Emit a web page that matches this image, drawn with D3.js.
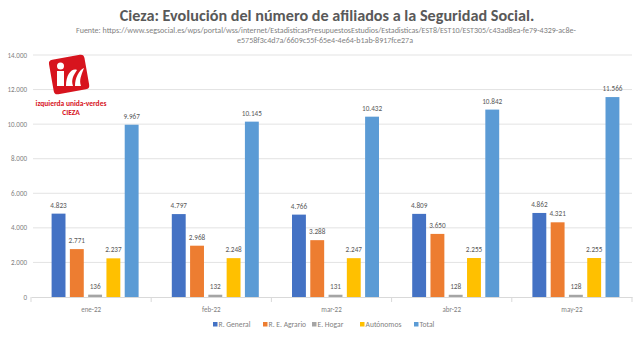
<!DOCTYPE html>
<html>
<head>
<meta charset="utf-8">
<script src="https://cdn.jsdelivr.net/npm/d3@7"></script>
<style>
  body { margin: 0; background: #fff; }
  text { font-family: Calibri, Carlito, "Liberation Sans", "DejaVu Sans", sans-serif; }
</style>
</head>
<body>
<div id="container"></div>
<script>
let w = 640;
let h = 337;

const months = ["ene-22", "feb-22", "mar-22", "abr-22", "may-22"];
const seriesNames = ["R. General", "R. E. Agrario", "E. Hogar", "Autónomos", "Total"];
const rGeneral = [4823, 4797, 4766, 4809, 4862];
const rAgrario = [2771, 2968, 3288, 3650, 4321];
const eHogar = [136, 132, 131, 128, 128];
const autonomos = [2237, 2248, 2247, 2255, 2255];
const total = [9967, 10145, 10432, 10842, 11566];
const yTicks = [0, 2000, 4000, 6000, 8000, 10000, 12000, 14000];
const colors = ["#4472c4", "#ed7d31", "#a5a5a5", "#ffc000", "#5b9bd5"];

const allSeries = [rGeneral, rAgrario, eHogar, autonomos, total];

const fmt = v => d3.format(",")(v).replace(/,/g, ".");

let svg = d3.select("#container")
  .append("svg")
    .attr("width", w)
    .attr("height", h)
    .style("background-color", "#fff");

// title + source
svg.append("text")
  .attr("x", 327).attr("y", 21)
  .attr("text-anchor", "middle")
  .attr("fill", "#595959")
  .style("font-size", "16.2px")
  .style("font-weight", "bold")
  .text("Cieza: Evolución del número de afiliados a la Seguridad Social.");

svg.append("text")
  .attr("x", 326).attr("y", 33)
  .attr("text-anchor", "middle")
  .attr("fill", "#7f7f7f")
  .attr("textLength", 500)
  .attr("lengthAdjust", "spacingAndGlyphs")
  .style("font-size", "7.4px")
  .text("Fuente: https://www.segsocial.es/wps/portal/wss/internet/EstadisticasPresupuestosEstudios/Estadisticas/EST8/EST10/EST305/c43ad8ea-fe79-4329-ac8e-");
svg.append("text")
  .attr("x", 325).attr("y", 43)
  .attr("text-anchor", "middle")
  .attr("fill", "#7f7f7f")
  .attr("textLength", 176)
  .attr("lengthAdjust", "spacingAndGlyphs")
  .style("font-size", "7.4px")
  .text("e5758f3c4d7a/6609c55f-65e4-4e64-b1ab-8917fce27a");

let x = d3.scaleBand().domain(months).range([31, 632]);
let y = d3.scaleLinear().domain([0, 14000]).range([297, 55]);
let xs = d3.scaleBand().domain(d3.range(5)).range([0, 87]).paddingInner(0.24);

// gridlines
svg.append("g")
  .selectAll("line")
  .data(yTicks.filter(d => d > 0))
  .join("line")
    .attr("x1", 33).attr("x2", 632)
    .attr("y1", d => y(d)).attr("y2", d => y(d))
    .attr("stroke", "#e3e3e3")
    .attr("stroke-width", 1);

// y labels
svg.append("g")
  .selectAll("text")
  .data(yTicks)
  .join("text")
    .attr("x", 27)
    .attr("y", d => y(d) + 2.5)
    .attr("text-anchor", "end")
    .attr("fill", "#7f7f7f")
    .style("font-size", "7px")
    .text(d => fmt(d));

// bars
let groups = svg.append("g")
  .selectAll("g")
  .data(months)
  .join("g")
    .attr("transform", d => `translate(${x(d) + (x.bandwidth() - 87) / 2 + 4},0)`);

groups.each(function(m, mi) {
  let g = d3.select(this);
  allSeries.forEach((s, si) => {
    g.append("rect")
      .attr("x", xs(si))
      .attr("y", y(s[mi]))
      .attr("width", xs.bandwidth())
      .attr("height", y(0) - y(s[mi]))
      .attr("fill", colors[si]);
    g.append("text")
      .attr("x", xs(si) + xs.bandwidth() / 2)
      .attr("y", y(s[mi]) - 6)
      .attr("text-anchor", "middle")
      .attr("fill", "#595959")
      .style("font-size", "7.2px")
      .text(fmt(s[mi]));
  });
});

// x axis
let xAxis = d3.axisBottom(x).tickSize(0).tickPadding(10);
let ax = svg.append("g")
  .attr("transform", `translate(0,${y(0)})`)
  .call(xAxis);
ax.select(".domain").attr("stroke", "#d9d9d9");
ax.selectAll("text")
  .attr("fill", "#7f7f7f")
  .style("font-size", "7px")
  .style("font-family", "Calibri, Carlito, 'Liberation Sans', sans-serif");
ax.selectAll(".sep")
  .data(d3.range(months.length + 1))
  .join("line")
    .attr("class", "sep")
    .attr("x1", i => 31 + i * x.step()).attr("x2", i => 31 + i * x.step())
    .attr("y1", 0).attr("y2", 5)
    .attr("stroke", "#d9d9d9");

// legend
let legendX = [213, 263, 312, 360, 414];
let legend = svg.append("g")
  .selectAll("g")
  .data(seriesNames)
  .join("g")
    .attr("transform", (d, i) => `translate(${legendX[i]},327)`);
legend.append("rect")
  .attr("x", 0).attr("y", -5)
  .attr("width", 4.5).attr("height", 4.5)
  .attr("fill", (d, i) => colors[i]);
legend.append("text")
  .attr("x", 5.5).attr("y", 0)
  .attr("fill", "#7f7f7f")
  .style("font-size", "7.6px")
  .text(d => d);

// logo
let logo = svg.append("g").attr("transform", "translate(69,74)");
logo.append("rect")
  .attr("x", -18).attr("y", -17)
  .attr("width", 36).attr("height", 35)
  .attr("rx", 4)
  .attr("fill", "#d7141e")
  .attr("transform", "rotate(-10)");
logo.append("rect")
  .attr("x", -12).attr("y", -3).attr("width", 7).attr("height", 15)
  .attr("fill", "#fff");
logo.append("circle")
  .attr("cx", -8.5).attr("cy", -8).attr("r", 3.5)
  .attr("fill", "#fff");
logo.append("path")
  .attr("d", "M-3,12 C-3,0 3,-6 8,-4 C4,2 2,6 4,12 Z M6,12 C6,4 10,-4 15,-6 C12,2 10,6 12,12 Z")
  .attr("fill", "#fff");
svg.append("text")
  .attr("x", 71).attr("y", 106)
  .attr("text-anchor", "middle")
  .attr("fill", "#d7141e")
  .style("font-size", "7.5px")
  .style("font-weight", "bold")
  .text("izquierda unida-verdes");
svg.append("text")
  .attr("x", 71).attr("y", 115)
  .attr("text-anchor", "middle")
  .attr("fill", "#d7141e")
  .style("font-size", "7.5px")
  .style("font-weight", "bold")
  .text("CIEZA");
</script>
</body>
</html>
